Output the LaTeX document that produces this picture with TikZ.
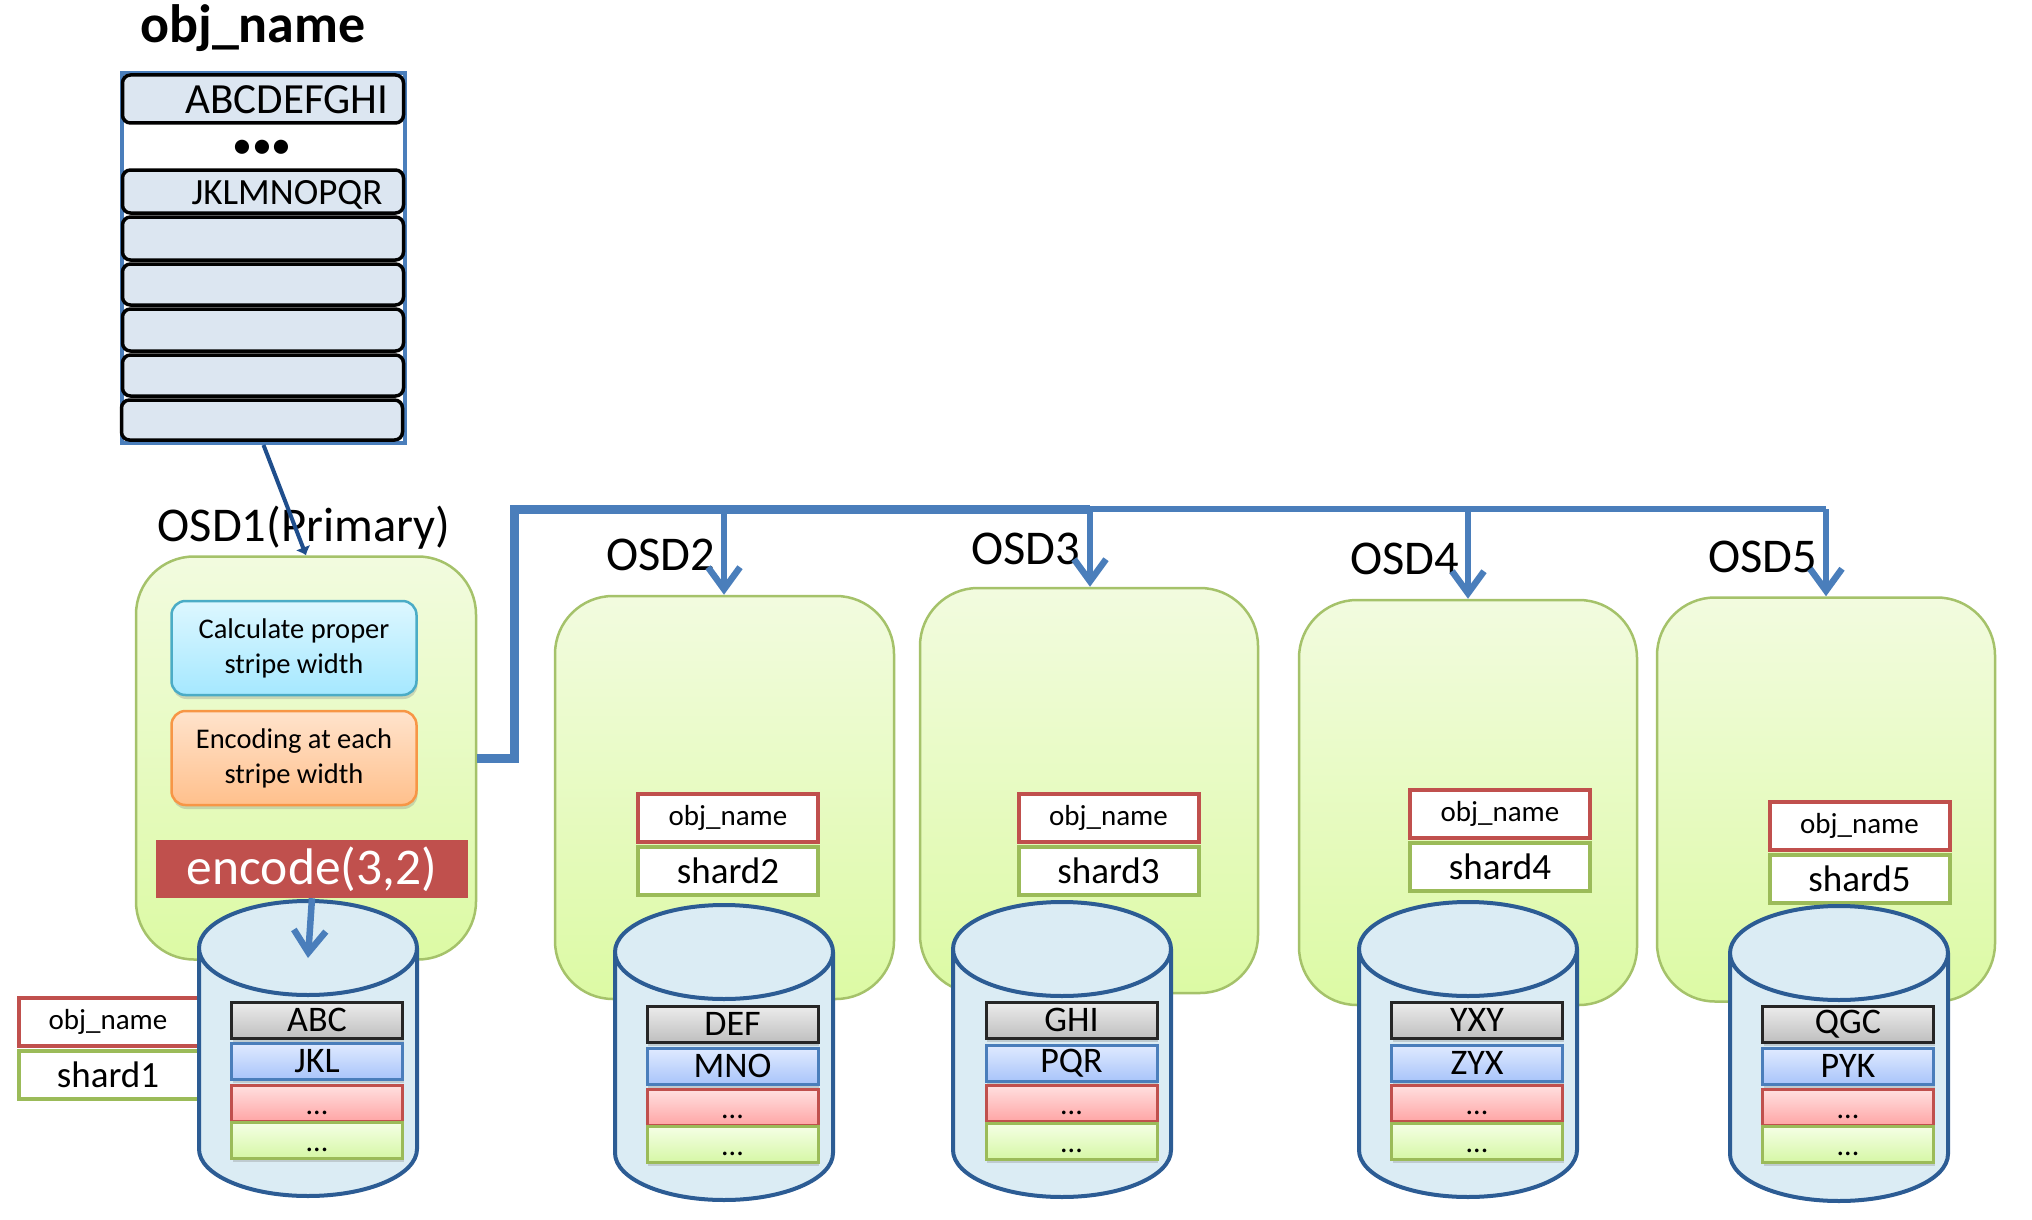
\documentclass[tikz,border=0pt]{standalone}
\usepackage{fontspec}
\setmainfont{Carlito}
\usetikzlibrary{arrows.meta,shapes.geometric,shadows}
\definecolor{busblue}{HTML}{4A7EBB}
\definecolor{darkblue}{HTML}{1F4E8C}
\definecolor{diskline}{HTML}{2C5C94}
\definecolor{diskfill}{HTML}{DBECF4}
\definecolor{rowfill}{HTML}{DCE6F1}
\definecolor{redline}{HTML}{C0504D}
\definecolor{greenline}{HTML}{9BBB59}
\definecolor{osdtop}{HTML}{F2FBDF}
\definecolor{osdbottom}{HTML}{DCFAA4}
\definecolor{pieceBt}{HTML}{E0EAFF}
\definecolor{pieceBb}{HTML}{A9C5FA}
\definecolor{pieceGt}{HTML}{F5FFE6}
\definecolor{pieceGb}{HTML}{D6F7A6}
\definecolor{calctop}{HTML}{DDF7FF}
\definecolor{calcbottom}{HTML}{A5E8FF}
\definecolor{calcline}{HTML}{4BACC6}
\definecolor{enctop}{HTML}{FFE3CC}
\definecolor{encbottom}{HTML}{FFC08C}
\definecolor{encline}{HTML}{F79646}
\newcommand{\lowdots}{\raisebox{-11pt}[0pt][0pt]{...}}
\newcommand{\diskbody}[1]{\draw[diskline, line width=4pt, fill=diskfill]
    (#1.west) -- ++(0,201) arc[start angle=180, end angle=360, x radius=109pt, y radius=47pt]
    -- (#1.east) arc[start angle=0, end angle=180, x radius=109pt, y radius=47pt] -- cycle
    (#1.west) arc[start angle=180, end angle=360, x radius=109pt, y radius=47pt];}
\tikzset{
  fs/.style={font=\fontsize{#1}{#1}\selectfont},
  sized/.style n args={2}{minimum width=#1, minimum height=#2, inner sep=0pt},
  softshadow/.style={drop shadow={shadow xshift=1pt, shadow yshift=-4pt, opacity=.3}},
  stackrow/.style={draw=black, line width=3.5pt, rounded corners=8pt, fill=rowfill, sized={281}{#1}},
  osdbox/.style={draw=greenline!90, line width=2.5pt, rounded corners=58pt, top color=osdtop, bottom color=osdbottom},
  osdlabel/.style={fs=48.5, inner sep=0pt},
  disktop/.style={ellipse, sized={218}{94}, outer sep=0pt},
  namebox/.style={draw=redline, line width=4pt, fill=white, fs=29, sized={180}{48}},
  shardbox/.style={draw=greenline, line width=4pt, fill=white, fs=37, sized={180}{48}},
  piece/.style={line width=3pt, sized={171}{36}, softshadow},
  piecegray/.style={piece, draw=black!85, top color=gray!15, bottom color=gray!50, fs=36},
  pieceblue/.style={piece, draw=busblue, top color=pieceBt, bottom color=pieceBb, fs=36},
  piecered/.style={piece, draw=redline, top color=red!12, bottom color=red!35, fs=30},
  piecegreen/.style={piece, draw=greenline, top color=pieceGt, bottom color=pieceGb, fs=30},
  stepbox/.style={rounded corners=14pt, line width=2.5pt, sized={245}{94}, softshadow, align=center, font=\fontsize{28.5}{35}\selectfont},
  bus/.style={draw=busblue, line width=#1},
  busarrow/.style={draw=busblue, line width=6.5pt, -{Straight Barb[length=22pt, width=32pt]}}
}
\begin{document}
\begin{tikzpicture}[x=1pt, y=-1pt]
    \useasboundingbox (0,0) rectangle (2032,1220);

    % Object stack
    \node[inner sep=0pt, font=\fontsize{54}{54}\selectfont\bfseries] (title) at (253,28) {obj\_name};
    \node[draw=busblue, line width=4pt, sized={283}{370}] (stack) at (263.5,258) {};
    \node[stackrow=48] (row1) at (263,99) {};
    \node[stackrow=43] (row2) at (263,191.5) {};
    \node[stackrow=43] (row3) at (263,238.5) {};
    \node[stackrow=41] (row4) at (263,284.5) {};
    \node[stackrow=42] (row5) at (263,330) {};
    \node[stackrow=41] (row6) at (263,375.5) {};
    \node[stackrow=40] (row7) at (262,420) {};
    \node[fs=43, inner sep=0pt] (text1) at (287,100) {ABCDEFGHI};
    \node[fs=37, inner sep=0pt] (text2) at (287,195) {JKLMNOPQR};
    \node[fs=40, inner sep=0pt] (dots) at (262,149) {•••};

    % OSD boxes
    \node[osdbox, sized={340}{403}] (osd1) at (306,758) {};
    \node[osdbox, sized={339}{403}] (osd2) at (724.5,797.5) {};
    \node[osdbox, sized={338}{405}] (osd3) at (1089,790.5) {};
    \node[osdbox, sized={338}{405}] (osd4) at (1468,802.5) {};
    \node[osdbox, sized={338}{404}] (osd5) at (1826,799.5) {};

    \node[osdlabel] (label1) at (304,528) {OSD1(Primary)};
    \node[osdlabel] (label2) at (661,555) {OSD2};
    \node[osdlabel] (label3) at (1026,549) {OSD3};
    \node[osdlabel] (label4) at (1405,559) {OSD4};
    \node[osdlabel] (label5) at (1763,557) {OSD5};

    % Steps inside the primary
    \node[stepbox, draw=calcline, top color=calctop, bottom color=calcbottom] (calc) at (294,648) {Calculate proper\\stripe width};
    \node[stepbox, draw=encline, top color=enctop, bottom color=encbottom] (enc) at (294,758) {Encoding at each\\stripe width};
    \node[fill=redline, text=white, fs=51.5, sized={312}{58}] (encode) at (312,869) {\raisebox{-2pt}{encode(3,2)}};

    % Shard labels
    \node[namebox, minimum width=186, anchor=west] (name1) at (17,1022) {\hspace*{-8pt}obj\_name};
    \node[shardbox, minimum width=186, anchor=west] (shard1) at (17,1075) {\hspace*{-8pt}shard1};
    \node[namebox] (name2) at (728,818) {obj\_name};
    \node[shardbox] (shard2) at (728,871) {shard2};
    \node[namebox] (name3) at (1108.5,817.5) {obj\_name};
    \node[shardbox] (shard3) at (1108.5,870.5) {shard3};
    \node[namebox] (name4) at (1500,813.5) {obj\_name};
    \node[shardbox] (shard4) at (1500,866.5) {shard4};
    \node[namebox] (name5) at (1859.5,825.5) {obj\_name};
    \node[shardbox] (shard5) at (1859.5,878.5) {shard5};

    % Disks
    \node[disktop] (disk1) at (308,948) {};
    \node[disktop] (disk2) at (724,952) {};
    \node[disktop] (disk3) at (1062,949) {};
    \node[disktop] (disk4) at (1468,949) {};
    \node[disktop] (disk5) at (1839,953) {};
    \diskbody{disk1}
    \diskbody{disk2}
    \diskbody{disk3}
    \diskbody{disk4}
    \diskbody{disk5}

    % Pieces in each disk
    \node[piecegray] (abc) at (317,1020) {ABC};
    \node[pieceblue] (jkl) at (317,1061) {JKL};
    \node[piecered] (red1) at (317,1103) {\lowdots};
    \node[piecegreen] (green1) at (317,1140) {\lowdots};

    \node[piecegray] (def) at (732.5,1024) {DEF};
    \node[pieceblue] (mno) at (732.5,1066) {MNO};
    \node[piecered] (red2) at (732.5,1107) {\lowdots};
    \node[piecegreen] (green2) at (732.5,1144) {\lowdots};

    \node[piecegray] (ghi) at (1071.5,1020) {GHI};
    \node[pieceblue] (pqr) at (1071.5,1063) {PQR};
    \node[piecered] (red3) at (1071.5,1103) {\lowdots};
    \node[piecegreen] (green3) at (1071.5,1141) {\lowdots};

    \node[piecegray] (yxy) at (1477,1020) {YXY};
    \node[pieceblue] (zyx) at (1477,1063) {ZYX};
    \node[piecered] (red4) at (1477,1103) {\lowdots};
    \node[piecegreen] (green4) at (1477,1141) {\lowdots};

    \node[piecegray] (qgc) at (1848,1024) {QGC};
    \node[pieceblue] (pyk) at (1848,1066) {PYK};
    \node[piecered] (red5) at (1848,1107) {\lowdots};
    \node[piecegreen] (green5) at (1848,1144) {\lowdots};

    % Free ends of the connectors
    \coordinate (corner) at (514,509);
    \coordinate (busmid) at (1090,509);
    \coordinate (bus2) at (724,509);
    \coordinate (bus4) at (1468,509);
    \coordinate (bus5) at (1826,509);
    \coordinate (diskin) at (308,958);

    % Draw connectors
    \draw[draw=darkblue, line width=4pt, -{Latex[length=8pt, width=16pt]}] (stack.south) -- (osd1.north);
    \draw[bus=9pt] (osd1.east) -| (corner) -- (busmid);
    \draw[bus=6.5pt] (busmid) -- (bus5);
    \draw[busarrow] (bus2) -- (bus2 |- osd2.north);
    \draw[busarrow] (busmid) -- (busmid |- osd3.north);
    \draw[busarrow] (bus4) -- (bus4 |- osd4.north);
    \draw[busarrow] (bus5) -- (bus5 |- osd5.north);
    \draw[busarrow] (encode.south) -- (diskin);
\end{tikzpicture}
\end{document}
